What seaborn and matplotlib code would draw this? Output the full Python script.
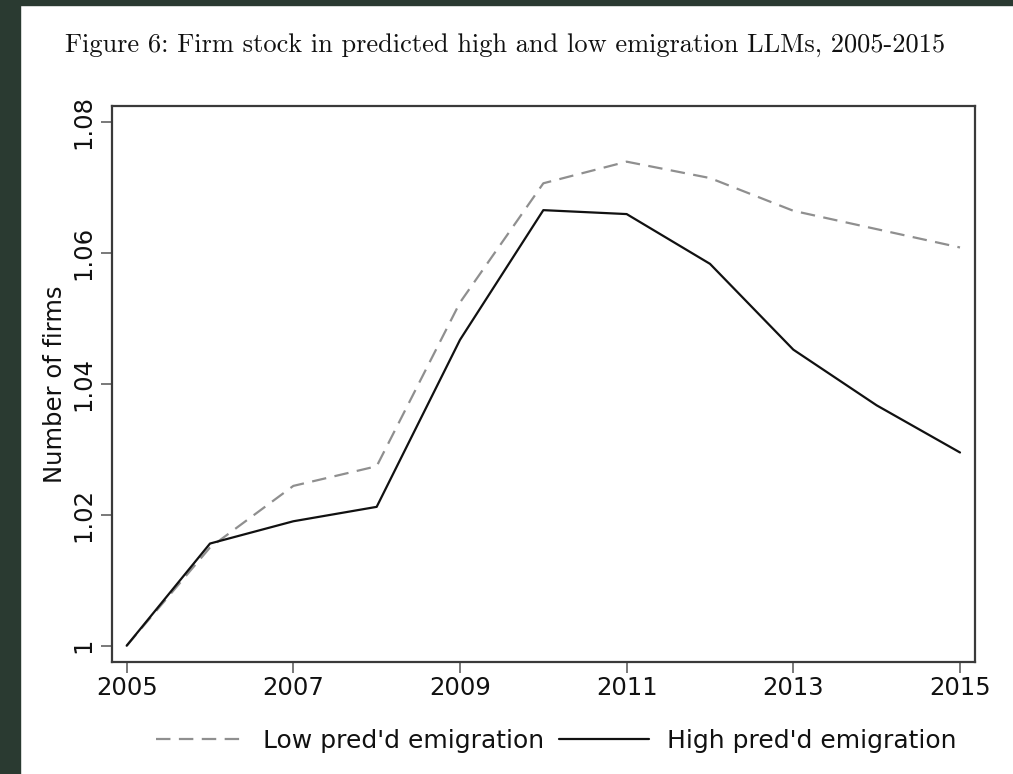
import matplotlib
matplotlib.use("Agg")
import matplotlib.pyplot as plt
from matplotlib.patches import Rectangle
from matplotlib.lines import Line2D
import seaborn as sns
import pandas as pd

years = [2005, 2006, 2007, 2008, 2009, 2010, 2011, 2012, 2013, 2014, 2015]
low_emig = [1.000, 1.0150, 1.0244, 1.0274, 1.0524, 1.0706, 1.0739, 1.0714, 1.0664, 1.0636, 1.0608]
high_emig = [1.000, 1.0156, 1.0190, 1.0212, 1.0467, 1.0665, 1.0659, 1.0583, 1.0452, 1.0367, 1.0295]
series_names = ["Low pred'd emigration", "High pred'd emigration"]
x_ticks = [2005, 2007, 2009, 2011, 2013, 2015]
y_ticks = [1.00, 1.02, 1.04, 1.06, 1.08]
y_tick_labels = ["1", "1.02", "1.04", "1.06", "1.08"]
title = "Figure 6: Firm stock in predicted high and low emigration LLMs, 2005-2015"
y_label = "Number of firms"

sns.set_style("white")
plt.rcParams['font.family'] = ['DejaVu Sans']

W, H = 1013, 774
fig = plt.figure(figsize=(W / 100, H / 100), dpi=100)
fig.patch.set_facecolor("white")

# dark page border (screenshot frame)
border = "#2a3a31"
fig.patches.append(Rectangle((0, 0), 20 / W, 1, transform=fig.transFigure, color=border, zorder=0))
fig.patches.append(Rectangle((0, 1 - 5 / H), 1, 5 / H, transform=fig.transFigure, color=border, zorder=0))

left, right, top, bottom = 111.5, 975, 106, 661.7
ax = fig.add_axes([left / W, 1 - bottom / H, (right - left) / W, (bottom - top) / H])

df_low = pd.DataFrame({"year": years, "value": low_emig})
df_high = pd.DataFrame({"year": years, "value": high_emig})

sns.lineplot(data=df_low, x="year", y="value", ax=ax, color="#8f8f8f",
             linestyle=(0, (6.5, 3.8)), linewidth=1.6, label=series_names[0])
sns.lineplot(data=df_high, x="year", y="value", ax=ax, color="#111111",
             linewidth=1.6, label=series_names[1])

ax.set_xlim(2004.818, 2015.18)
ax.set_ylim(0.99756, 1.0824)
ax.set_xticks(x_ticks)
ax.set_xticklabels([str(x) for x in x_ticks])
ax.set_yticks(y_ticks)
ax.set_yticklabels(y_tick_labels, rotation=90, va="center")
ax.tick_params(axis="both", which="major", direction="out", length=8, width=1.1,
               color="#555555", labelsize=17.5, labelcolor="#111111",
               bottom=True, left=True)
ax.tick_params(axis="x", pad=2)
ax.tick_params(axis="y", pad=4)
ax.set_xlabel("")
ax.set_ylabel(y_label, fontsize=17.5, color="#111111")
ax.yaxis.set_label_coords((67 - left) / (right - left), 0.5)

for s in ax.spines.values():
    s.set_visible(True)
    s.set_color("#3a3a3a")
    s.set_linewidth(1.6)

ax.get_legend().remove()
handles = [Line2D([], [], color="#8f8f8f", linestyle=(0, (6.5, 3.8)), linewidth=1.6),
           Line2D([], [], color="#111111", linewidth=1.6)]
fig.legend(handles, series_names, ncol=2, loc="center", bbox_to_anchor=(556 / W, 1 - 741 / H),
           frameon=False, fontsize=18, handlelength=3.6, handletextpad=0.7,
           columnspacing=0.6, labelcolor="#111111")

fig.text(505 / W, 1 - 45 / H, title, fontfamily="cmr10", fontsize=19,
         ha="center", va="center", color="#111111")

fig.savefig("out.png", dpi=100, facecolor=fig.get_facecolor())
